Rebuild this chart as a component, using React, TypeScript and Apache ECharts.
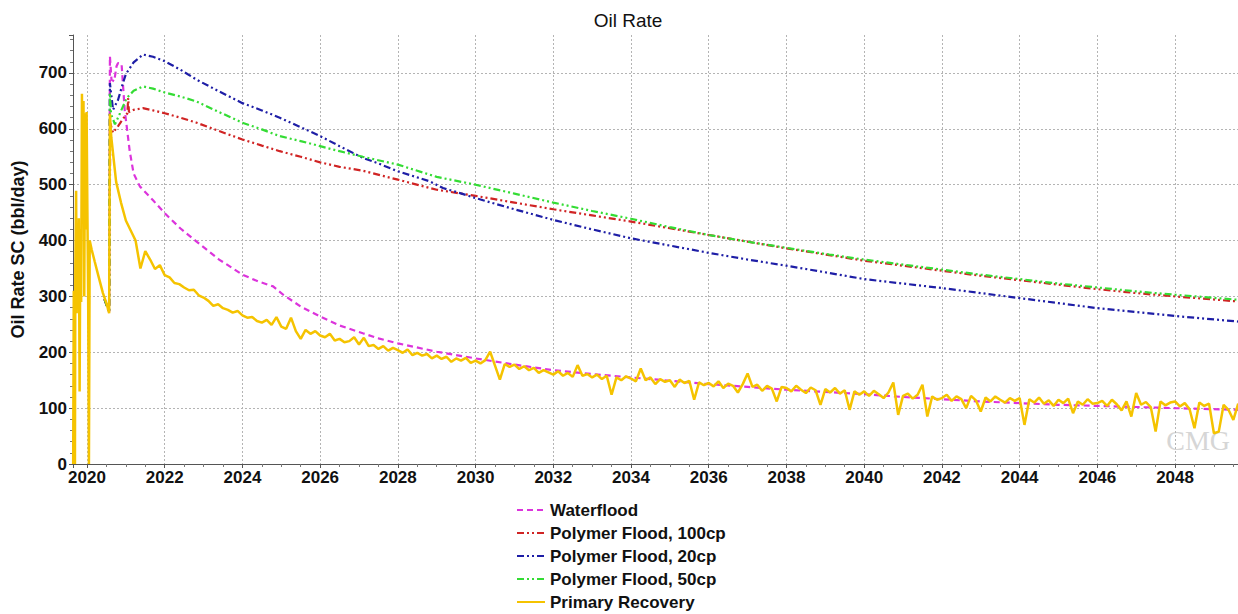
import React, { useEffect, useRef } from "react";
import * as echarts from "echarts";

const TITLE = "Oil Rate";
const Y_NAME = "Oil Rate SC (bbl/day)";
const SERIES_NAMES = [
  "Waterflood",
  "Polymer Flood, 100cp",
  "Polymer Flood, 20cp",
  "Polymer Flood, 50cp",
  "Primary Recovery",
];

const waterflood: [number, number][] = [
  [2020.45, 295], [2020.57, 272], [2020.59, 730], [2020.63, 688], [2020.7, 685],
  [2020.76, 712], [2020.8, 718], [2020.89, 716], [2020.97, 634], [2021.1, 560],
  [2021.2, 520], [2021.36, 497], [2021.7, 472], [2022.0, 449], [2022.4, 422],
  [2022.82, 398], [2023.4, 366], [2024.0, 339], [2024.4, 327], [2024.79, 318],
  [2025.05, 303], [2025.5, 282], [2026.0, 264], [2026.5, 248], [2027.1, 234],
  [2027.5, 225], [2028.0, 216], [2029.0, 201], [2030.0, 189], [2031.0, 178],
  [2032.0, 168], [2033.0, 161], [2034.0, 155], [2035.0, 149], [2036.0, 143],
  [2037.0, 138], [2038.0, 133], [2039.0, 129], [2040.0, 125], [2041.0, 120],
  [2042.0, 116], [2043.0, 112], [2044.0, 109], [2045.0, 106], [2046.0, 104],
  [2047.0, 102], [2048.0, 100], [2049.62, 97],
];

const polymer100: [number, number][] = [
  [2020.45, 295], [2020.57, 272], [2020.6, 610], [2020.67, 593], [2020.8, 605],
  [2020.95, 620], [2021.04, 628], [2021.06, 655], [2021.08, 630], [2021.2, 634],
  [2021.44, 637], [2021.7, 633], [2022.0, 628], [2022.4, 620], [2022.82, 611],
  [2023.4, 596], [2024.0, 581], [2024.5, 570], [2024.96, 560], [2025.5, 550],
  [2026.0, 540], [2026.5, 532], [2027.1, 525], [2028.0, 509], [2029.0, 491],
  [2030.0, 480], [2031.0, 468], [2032.0, 456], [2033.0, 445], [2034.0, 434],
  [2035.0, 422], [2036.0, 410], [2037.0, 398], [2038.0, 386], [2039.1, 374],
  [2040.0, 364], [2041.0, 355], [2042.0, 346], [2043.0, 337], [2044.0, 329],
  [2045.0, 321], [2046.0, 313], [2047.0, 306], [2048.0, 300], [2049.62, 291],
];

const polymer20: [number, number][] = [
  [2020.45, 295], [2020.57, 272], [2020.59, 682], [2020.67, 634], [2020.8, 652],
  [2020.9, 676], [2021.0, 698], [2021.2, 719], [2021.44, 733], [2021.7, 729],
  [2022.0, 721], [2022.4, 706], [2022.82, 688], [2023.4, 667], [2024.0, 646],
  [2024.5, 633], [2024.96, 620], [2025.5, 603], [2026.0, 587], [2026.5, 569],
  [2027.1, 548], [2027.5, 538], [2028.0, 524], [2028.82, 506], [2029.16, 494],
  [2029.6, 485], [2030.0, 476], [2031.0, 456], [2032.0, 437], [2033.0, 420],
  [2034.0, 404], [2035.0, 391], [2036.0, 378], [2037.0, 366], [2038.0, 355],
  [2039.1, 342], [2040.0, 331], [2041.0, 323], [2042.0, 315], [2043.0, 306],
  [2044.0, 297], [2045.0, 288], [2046.0, 279], [2047.0, 272], [2048.0, 265],
  [2049.62, 255],
];

const polymer50: [number, number][] = [
  [2020.45, 295], [2020.57, 272], [2020.59, 664], [2020.62, 626], [2020.72, 608],
  [2020.85, 628], [2021.02, 655], [2021.2, 668], [2021.44, 676], [2021.7, 672],
  [2022.0, 665], [2022.4, 658], [2022.82, 649], [2023.4, 630], [2024.0, 611],
  [2024.5, 599], [2024.96, 587], [2025.5, 578], [2026.0, 569], [2026.5, 560],
  [2027.1, 550], [2028.0, 536], [2029.0, 514], [2030.0, 500], [2031.0, 484],
  [2032.0, 468], [2033.0, 453], [2034.0, 439], [2035.0, 424], [2036.0, 410],
  [2037.0, 398], [2038.0, 387], [2039.1, 375], [2040.0, 366], [2041.0, 357],
  [2042.0, 348], [2043.0, 339], [2044.0, 331], [2045.0, 323], [2046.0, 316],
  [2047.0, 309], [2048.0, 303], [2049.62, 294],
];

// Primary recovery: early irregular history
const primaryEarly: [number, number][] = [
  [2019.645, 0], [2019.66, 310], [2019.68, 260], [2019.69, 0], [2019.7, 350],
  [2019.72, 489], [2019.735, 270], [2019.75, 430], [2019.77, 300], [2019.79, 440],
  [2019.81, 130], [2019.83, 420], [2019.85, 290], [2019.87, 663], [2019.89, 480],
  [2019.91, 650], [2019.93, 300], [2019.95, 628], [2019.97, 420], [2019.99, 630],
  [2020.01, 455], [2020.03, 300], [2020.05, 0], [2020.07, 400], [2020.12, 384],
  [2020.2, 362], [2020.3, 335], [2020.41, 306], [2020.5, 288], [2020.57, 270],
  [2020.59, 627],
];

// Primary recovery: reported every 1/8 year from 2020.625
const PRIMARY_START = 2020.625;
const PRIMARY_STEP = 0.125;
const primaryValues: number[] = [
  585, 505, 468,
  436, 418, 400, 350, 381, 366, 349, 356,
  338, 334, 324, 322, 316, 311, 312, 302,
  298, 292, 283, 286, 279, 276, 271, 274,
  266, 262, 263, 256, 253, 258, 249, 263,
  246, 242, 262, 238, 224, 240, 233, 238,
  230, 227, 233, 221, 224, 218, 220, 227,
  214, 226, 211, 213, 206, 211, 203, 208,
  204, 199, 205, 195, 199, 194, 197, 189,
  194, 188, 192, 183, 189, 185, 190, 181,
  185, 180, 186, 201, 176, 151, 179, 174,
  178, 170, 175, 168, 172, 163, 168, 164,
  160, 166, 158, 163, 156, 177, 158, 161,
  155, 160, 152, 158, 124, 155, 150, 157,
  153, 148, 171, 150, 155, 143, 152, 147,
  150, 138, 151, 145, 149, 115, 146, 141,
  145, 139, 148, 136, 144, 140, 128, 143,
  162, 138, 142, 131, 140, 135, 112, 138,
  136, 130, 140, 133, 127, 137, 132, 106,
  134, 128, 136, 126, 132, 97, 130, 124,
  130, 122, 131, 125, 118, 128, 146, 88,
  122, 126, 117, 124, 142, 85, 121, 115,
  118, 124, 113, 121, 116, 100, 122, 114,
  94, 119, 112, 121, 115, 110, 118, 113,
  118, 70, 116, 110, 119, 108, 114, 104,
  115, 109, 117, 91, 112, 106, 116, 108,
  109, 113, 104, 115, 107, 96, 112, 85,
  127, 106, 111, 102, 58, 112, 105, 110,
  112, 103, 109, 98, 64, 110, 104, 108,
  55, 58, 106, 97, 79, 108,
];

const X_MIN = 2019.64;
const X_MAX = 2049.62;
const Y_MIN = 0;
const Y_MAX = 768;
const Y_INTERVAL = 100;

const COLORS = ["#dc34dc", "#d02424", "#1e1ea6", "#34dc34", "#f5c300"];
const FONT = "'Liberation Sans', Arial, sans-serif";

export default function App() {
  const ref = useRef<HTMLDivElement>(null);

  useEffect(() => {
    if (!ref.current) return;
    const chart = echarts.init(ref.current, undefined, { renderer: "svg" });

    const primary: [number, number][] = [
      ...primaryEarly,
      ...primaryValues.map((v, i) => [PRIMARY_START + i * PRIMARY_STEP, v] as [number, number]),
    ];

    const dashDotDot = [7, 3, 2, 3, 2, 3];

    const option: any = {
      animation: false,
      backgroundColor: "#ffffff",
      title: {
        text: TITLE,
        left: 623,
        textAlign: "center",
        top: 6,
        textStyle: { fontFamily: FONT, fontSize: 19, fontWeight: "normal", color: "#111" },
      },
      grid: { left: 73, right: 0, top: 35, bottom: 150, containLabel: false },
      legend: {
        orient: "vertical",
        left: 516,
        top: 500,
        padding: 0,
        itemWidth: 28,
        itemHeight: 14,
        itemGap: 3,
        data: SERIES_NAMES,
        itemStyle: { opacity: 0 },
        textStyle: {
          fontFamily: FONT,
          fontSize: 17,
          fontWeight: "bold",
          color: "#111",
          lineHeight: 20,
        },
      },
      xAxis: {
        type: "value",
        min: X_MIN,
        max: X_MAX,
        splitNumber: 15,
        axisLine: { show: true, onZero: false, lineStyle: { color: "#555", width: 1 } },
        axisTick: { show: true, length: 4, lineStyle: { color: "#555" } },
        minorTick: { show: true, splitNumber: 4, length: 3, lineStyle: { color: "#777" } },
        axisLabel: {
          fontFamily: FONT,
          fontSize: 17,
          fontWeight: "bold",
          color: "#111",
          margin: 5,
          showMinLabel: false,
          showMaxLabel: false,
          formatter: (v: number) =>
            Math.abs(v / 2 - Math.round(v / 2)) < 1e-6 ? String(Math.round(v)) : "",
        },
        splitLine: {
          show: true,
          showMinLine: false,
          showMaxLine: false,
          lineStyle: { color: "#b4b4b4", type: [2, 2], width: 1 },
        },
      },
      yAxis: {
        type: "value",
        min: Y_MIN,
        max: Y_MAX,
        interval: Y_INTERVAL,
        name: Y_NAME,
        nameLocation: "middle",
        nameGap: 46,
        nameTextStyle: { fontFamily: FONT, fontSize: 18, fontWeight: "bold", color: "#111" },
        axisLine: { show: true, lineStyle: { color: "#555", width: 1 } },
        axisTick: { show: true, length: 4, lineStyle: { color: "#555" } },
        minorTick: { show: true, splitNumber: 5, length: 3, lineStyle: { color: "#777" } },
        axisLabel: {
          fontFamily: FONT,
          fontSize: 17,
          fontWeight: "bold",
          color: "#111",
          margin: 6,
          showMaxLabel: false,
          formatter: (v: number) => (v % 100 === 0 ? String(v) : ""),
        },
        splitLine: {
          show: true,
          showMinLine: false,
          showMaxLine: false,
          lineStyle: { color: "#b4b4b4", type: [2, 2], width: 1 },
        },
      },
      graphic: [
        {
          type: "text",
          right: 8,
          top: 426,
          z: 0,
          style: {
            text: "CMG",
            fill: "#d6d6d6",
            font: "28px 'Liberation Serif', serif",
          },
        },
      ],
      series: [
        {
          name: SERIES_NAMES[0],
          type: "line",
          data: waterflood,
          showSymbol: false,
          symbol: "none",
          color: COLORS[0],
          lineStyle: { color: COLORS[0], width: 2.2, type: [6, 4] },
          z: 2,
        },
        {
          name: SERIES_NAMES[1],
          type: "line",
          data: polymer100,
          showSymbol: false,
          symbol: "none",
          color: COLORS[1],
          lineStyle: { color: COLORS[1], width: 2.2, type: dashDotDot },
          z: 3,
        },
        {
          name: SERIES_NAMES[2],
          type: "line",
          data: polymer20,
          showSymbol: false,
          symbol: "none",
          color: COLORS[2],
          lineStyle: { color: COLORS[2], width: 2.2, type: dashDotDot },
          z: 3,
        },
        {
          name: SERIES_NAMES[3],
          type: "line",
          data: polymer50,
          showSymbol: false,
          symbol: "none",
          color: COLORS[3],
          lineStyle: { color: COLORS[3], width: 2.2, type: dashDotDot },
          z: 3,
        },
        {
          name: SERIES_NAMES[4],
          type: "line",
          data: primary,
          showSymbol: false,
          symbol: "none",
          color: COLORS[4],
          lineStyle: { color: COLORS[4], width: 2.5, type: "solid" },
          z: 4,
        },
      ],
    };

    chart.setOption(option);
    return () => chart.dispose();
  }, []);

  return (
    <div
      ref={ref}
      style={{ position: "absolute", left: 0, top: 0, width: 1238, height: 614 }}
    />
  );
}
